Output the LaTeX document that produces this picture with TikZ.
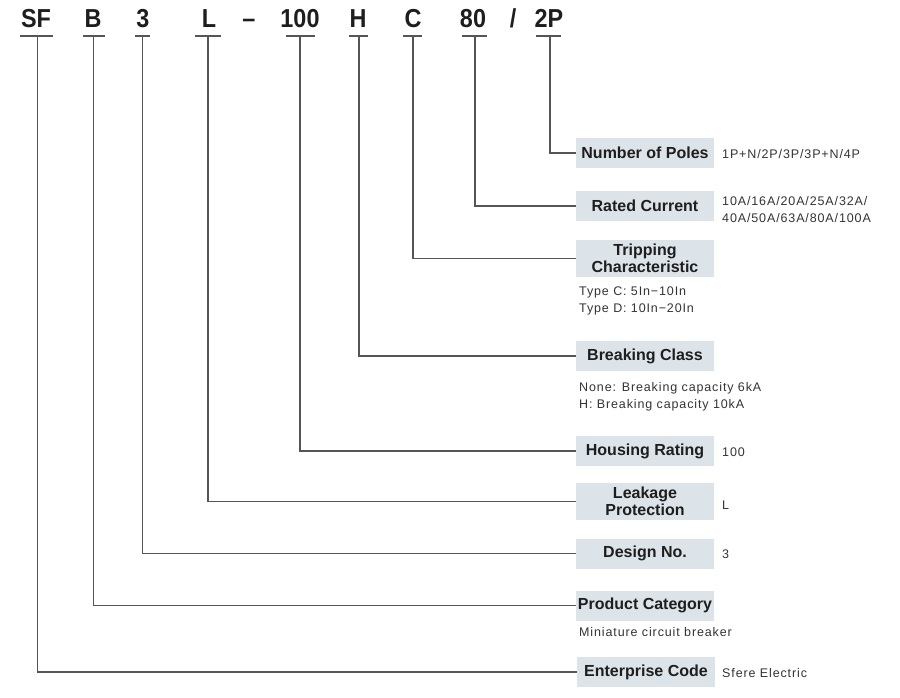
\documentclass[tikz,border=0pt]{standalone}
\usepackage{fontspec}
\setmainfont{Liberation Sans}
\newfontfamily\valfont[LetterSpace=7]{Liberation Sans}
\definecolor{boxfill}{HTML}{DCE3E9}
\definecolor{linec}{HTML}{555555}
\definecolor{txt}{HTML}{1E1E1E}
\definecolor{valtxt}{HTML}{333333}
\begin{document}
\begin{tikzpicture}[x=1pt,y=-1pt,
  code/.style={anchor=base,inner sep=0pt,text=txt,font=\fontsize{26}{30}\selectfont\bfseries},
  conn/.style={draw=linec,line width=1.2pt},
  label/.style={fill=boxfill,minimum width=138pt,minimum height=30pt,inner sep=1pt,align=center,text=txt,font=\fontsize{16}{17}\selectfont\bfseries},
  val/.style={anchor=base west,inner sep=0pt,align=left,text=valtxt,font=\fontsize{12.5}{17}\selectfont\valfont}]
\useasboundingbox (0,0) rectangle (900,698);
% top code
\node[code] (cSF) at (36,27.5) {\scalebox{0.9}[1]{SF}};
\node[code] (cB) at (93,27.5) {\scalebox{0.9}[1]{B}};
\node[code] (c3) at (143,27.5) {\scalebox{0.9}[1]{3}};
\node[code] (cL) at (209,27.5) {\scalebox{0.9}[1]{L}};
\node[code] (cdash) at (249,27.5) {\scalebox{0.9}[1]{–}};
\node[code] (c100) at (300,27.5) {\scalebox{0.9}[1]{100}};
\node[code] (cH) at (358,27.5) {\scalebox{0.9}[1]{H}};
\node[code] (cC) at (413,27.5) {\scalebox{0.9}[1]{C}};
\node[code] (c80) at (473,27.5) {\scalebox{0.9}[1]{80}};
\node[code] (cslash) at (513,27.5) {\scalebox{0.9}[1]{/}};
\node[code] (c2P) at (549,27.5) {\scalebox{0.9}[1]{2P}};
% bars
\coordinate (bSF) at (37.5,36);
\coordinate (bB) at (93.5,36);
\coordinate (b3) at (142.5,36);
\coordinate (bL) at (208,36);
\coordinate (b100) at (300,36);
\coordinate (bH) at (359,36);
\coordinate (bC) at (413,36);
\coordinate (b80) at (475,36);
\coordinate (b2P) at (550,36);
\draw[conn] (20,36) -- (53,36);
\draw[conn] (83,36) -- (105,36);
\draw[conn] (135,36) -- (150,36);
\draw[conn] (195,36) -- (221,36);
\draw[conn] (286,36) -- (315,36);
\draw[conn] (349,36) -- (368,36);
\draw[conn] (403,36) -- (422,36);
\draw[conn] (462,36) -- (487,36);
\draw[conn] (536,36) -- (561,36);
% boxes
\node[label] (poles) at (645,153) {Number of Poles};
\node[label] (rated) at (645,206) {Rated Current};
\node[label,minimum height=37pt] (trip) at (645,258.5) {Tripping\\Characteristic};
\node[label] (break) at (645,356) {Breaking Class};
\node[label] (housing) at (645,451) {Housing Rating};
\node[label,minimum height=37pt] (leak) at (645,501.5) {Leakage\\Protection};
\node[label] (design) at (645,553.5) {Design No.};
\node[label] (product) at (645,605.5) {Product Category};
\node[label] (enter) at (646,672) {Enterprise Code};
% connectors
\draw[conn] (b2P) |- (poles.west);
\draw[conn] (b80) |- (rated.west);
\draw[conn] (bC) |- (trip.west);
\draw[conn] (bH) |- (break.west);
\draw[conn] (b100) |- (housing.west);
\draw[conn] (bL) |- (leak.west);
\draw[conn] (b3) |- (design.west);
\draw[conn] (bB) |- (product.west);
\draw[conn] (bSF) |- (enter.west);
% values
\node[val] (vpoles) at (722,158.5) {1P+N/2P/3P/3P+N/4P};
\node[val] (vrated) at (722,222.5) {10A/16A/20A/25A/32A/\\40A/50A/63A/80A/100A};
\node[val] (vtrip) at (579,312.5) {Type C: 5In−10In\\Type D: 10In−20In};
\node[val] (vbreak) at (579,408.5) {None: Breaking capacity 6kA\\H: Breaking capacity 10kA};
\node[val] (vhousing) at (722,456) {100};
\node[val] (vleak) at (722,509.5) {L};
\node[val] (vdesign) at (722,558) {3};
\node[val] (vproduct) at (579,636.5) {Miniature circuit breaker};
\node[val] (venter) at (722,677.5) {Sfere Electric};
\end{tikzpicture}
\end{document}
